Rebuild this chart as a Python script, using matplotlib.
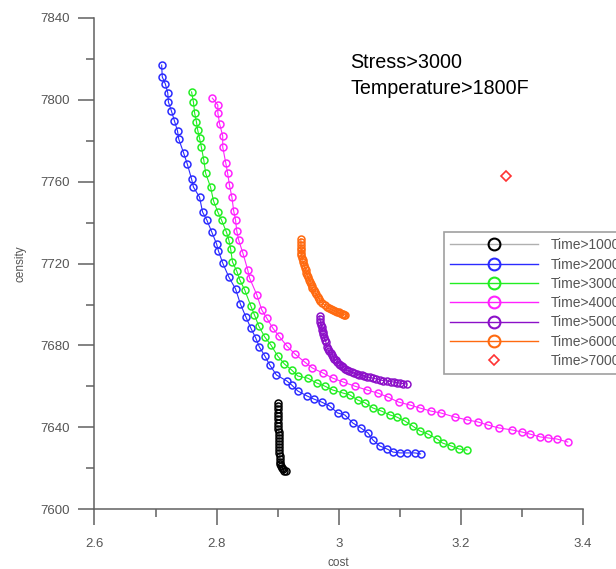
import numpy as np
import matplotlib
matplotlib.use("Agg")
import matplotlib.pyplot as plt
from matplotlib.ticker import MultipleLocator

plt.rcParams['font.family'] = ['Liberation Sans', 'DejaVu Sans']

# Time>1000
t1000_x = [2.900, 2.900, 2.900, 2.900, 2.900, 2.900, 2.900, 2.900, 2.900, 2.902,
           2.902, 2.902, 2.902, 2.902, 2.902, 2.902, 2.902, 2.903, 2.903, 2.903,
           2.903, 2.905, 2.907, 2.909, 2.911, 2.913]
t1000_y = [7652.0, 7650.5, 7649.0, 7647.1, 7645.5, 7644.0, 7642.2, 7640.8, 7639.3, 7637.8,
           7636.3, 7634.9, 7633.4, 7632.0, 7630.5, 7629.0, 7627.6, 7626.1, 7624.6, 7623.2,
           7622.2, 7621.2, 7620.3, 7619.6, 7619.0, 7618.6]

# Time>2000
t2000_x = [2.710, 2.711, 2.716, 2.720, 2.721, 2.726, 2.731, 2.736, 2.738, 2.746,
           2.752, 2.759, 2.762, 2.772, 2.777, 2.784, 2.792, 2.800, 2.803, 2.810,
           2.820, 2.831, 2.839, 2.848, 2.856, 2.864, 2.870, 2.879, 2.887, 2.898,
           2.915, 2.923, 2.933, 2.948, 2.959, 2.972, 2.985, 2.998, 3.010, 3.023,
           3.036, 3.048, 3.056, 3.067, 3.079, 3.089, 3.100, 3.111, 3.125, 3.134]
t2000_y = [7816.8, 7811.0, 7807.6, 7803.2, 7798.8, 7794.4, 7789.5, 7784.6, 7780.7, 7773.9,
           7768.5, 7761.2, 7757.3, 7752.4, 7745.1, 7741.2, 7735.4, 7729.5, 7726.1, 7720.2,
           7713.4, 7707.6, 7700.2, 7693.9, 7688.5, 7683.7, 7679.3, 7674.9, 7670.5, 7665.6,
           7662.7, 7660.7, 7657.8, 7655.4, 7653.9, 7652.4, 7650.5, 7647.1, 7646.1, 7642.2,
           7639.8, 7637.3, 7633.9, 7631.0, 7629.5, 7628.0, 7627.6, 7627.6, 7627.6, 7627.1]

# Time>3000
t3000_x = [2.759, 2.762, 2.764, 2.767, 2.769, 2.772, 2.775, 2.779, 2.782, 2.790,
           2.795, 2.802, 2.808, 2.816, 2.820, 2.823, 2.826, 2.833, 2.838, 2.846,
           2.856, 2.862, 2.869, 2.879, 2.889, 2.900, 2.911, 2.923, 2.933, 2.949,
           2.964, 2.977, 2.990, 3.007, 3.018, 3.031, 3.043, 3.056, 3.070, 3.084,
           3.095, 3.108, 3.121, 3.133, 3.146, 3.161, 3.170, 3.184, 3.197, 3.210]
t3000_y = [7803.7, 7798.8, 7793.4, 7789.0, 7785.1, 7781.2, 7776.8, 7770.5, 7764.1, 7757.3,
           7750.5, 7745.1, 7741.2, 7735.4, 7731.5, 7727.1, 7720.7, 7716.3, 7712.0, 7707.1,
           7699.3, 7694.9, 7689.5, 7684.1, 7680.2, 7674.9, 7671.0, 7668.0, 7665.1, 7664.1,
           7661.7, 7660.2, 7658.3, 7656.8, 7655.9, 7653.4, 7652.0, 7649.5, 7648.0, 7646.1,
           7645.1, 7643.2, 7640.7, 7638.3, 7636.8, 7634.4, 7632.4, 7631.0, 7629.5, 7629.0]

# Time>4000
t4000_x = [2.793, 2.802, 2.802, 2.805, 2.810, 2.810, 2.815, 2.818, 2.821, 2.825,
           2.828, 2.831, 2.833, 2.836, 2.843, 2.851, 2.854, 2.866, 2.874, 2.882,
           2.892, 2.902, 2.915, 2.928, 2.944, 2.957, 2.974, 2.990, 3.007, 3.026,
           3.046, 3.064, 3.080, 3.098, 3.116, 3.133, 3.151, 3.167, 3.190, 3.210,
           3.228, 3.244, 3.262, 3.284, 3.300, 3.313, 3.330, 3.343, 3.357, 3.375]
t4000_y = [7800.7, 7797.3, 7793.4, 7788.0, 7782.2, 7776.8, 7769.0, 7764.1, 7758.3, 7752.4,
           7745.6, 7741.2, 7735.9, 7731.5, 7725.1, 7716.8, 7712.9, 7704.6, 7697.3, 7693.4,
           7688.5, 7684.6, 7679.8, 7675.9, 7672.0, 7669.0, 7666.6, 7664.1, 7662.2, 7660.2,
           7658.3, 7656.8, 7654.9, 7652.4, 7651.0, 7649.5, 7648.0, 7647.1, 7645.1, 7643.7,
           7642.7, 7641.2, 7639.8, 7638.8, 7637.8, 7636.8, 7635.4, 7634.9, 7634.4, 7632.9]

# Time>5000
t5000_x = [2.969, 2.969, 2.970, 2.971, 2.972, 2.973, 2.974, 2.975, 2.976, 2.977,
           2.979, 2.980, 2.982, 2.984, 2.987, 2.989, 2.991, 2.992, 2.995, 2.997,
           3.000, 3.002, 3.005, 3.007, 3.010, 3.013, 3.017, 3.021, 3.025, 3.030,
           3.034, 3.038, 3.042, 3.046, 3.051, 3.056, 3.061, 3.067, 3.073, 3.079,
           3.085, 3.090, 3.095, 3.100, 3.106, 3.111]
t5000_y = [7694.4, 7693.0, 7691.5, 7690.2, 7689.0, 7687.8, 7686.6, 7685.4, 7684.1, 7682.9,
           7681.7, 7679.3, 7678.3, 7677.3, 7676.3, 7675.4, 7674.4, 7673.4, 7672.7, 7672.0,
           7671.2, 7670.5, 7670.0, 7669.5, 7668.7, 7668.0, 7667.6, 7667.1, 7666.6, 7666.1,
           7665.8, 7665.6, 7665.1, 7664.6, 7664.4, 7664.1, 7663.7, 7663.2, 7662.9, 7662.7,
           7662.4, 7662.2, 7661.9, 7661.7, 7661.4, 7661.2]

# Time>6000
t6000_x = [2.938, 2.938, 2.938, 2.938, 2.939, 2.939, 2.939, 2.940, 2.941, 2.942,
           2.943, 2.944, 2.946, 2.947, 2.948, 2.950, 2.951, 2.953, 2.954, 2.956,
           2.957, 2.959, 2.961, 2.963, 2.966, 2.968, 2.970, 2.973, 2.977, 2.980,
           2.984, 2.987, 2.990, 2.994, 2.997, 3.000, 3.002, 3.005, 3.007, 3.009, 3.011]
t6000_y = [7732.0, 7730.5, 7729.0, 7727.8, 7726.6, 7725.3, 7724.1, 7722.9, 7721.7, 7720.5,
           7719.3, 7718.0, 7716.8, 7715.6, 7714.4, 7713.2, 7712.0, 7711.0, 7710.0, 7709.0,
           7708.0, 7707.0, 7706.1, 7704.9, 7703.7, 7702.7, 7701.7, 7700.7, 7699.8, 7699.0,
           7698.3, 7697.8, 7697.3, 7696.8, 7696.3, 7696.1, 7695.9, 7695.6, 7695.4, 7695.1, 7694.9]

# Time>7000
t7000_x = [3.274]
t7000_y = [7762.7]

labels = ['Time>1000', 'Time>2000', 'Time>3000', 'Time>4000',
          'Time>5000', 'Time>6000', 'Time>7000']

fig = plt.figure(figsize=(6.16, 5.69), dpi=100)
ax = fig.add_axes([0.1534, 0.1046, 0.7930, 0.8646])

gray = '#555555'
mk = dict(marker='o', markersize=5, markerfacecolor='none', markeredgewidth=1.1, linewidth=0.8)

ax.plot(t1000_x, t1000_y, color='#b0b0b0', markeredgecolor='black', label=labels[0], **mk)
ax.plot(t2000_x, t2000_y, color='#2b2bff', label=labels[1], **mk)
ax.plot(t3000_x, t3000_y, color='#22ee22', label=labels[2], **mk)
ax.plot(t4000_x, t4000_y, color='#ff22ff', label=labels[3], **mk)
ax.plot(t5000_x, t5000_y, color='#8c10c8', label=labels[4], **mk)
ax.plot(t6000_x, t6000_y, color='#ff6a10', label=labels[5], **mk)
ax.plot(t7000_x, t7000_y, linestyle='none', marker='D', markersize=5.5,
        markerfacecolor='none', markeredgecolor='#ff3333', markeredgewidth=1.2,
        label=labels[6])

ax.set_xlim(2.6, 3.4)
ax.set_ylim(7600, 7840)
ax.xaxis.set_minor_locator(MultipleLocator(0.1))
ax.yaxis.set_major_locator(MultipleLocator(40))
ax.yaxis.set_minor_locator(MultipleLocator(20))
ax.set_xticks([2.6, 2.8, 3.0, 3.2, 3.4])
ax.set_xticklabels(['2.6', '2.8', '3', '3.2', '3.4'])

for s in ['top', 'right']:
    ax.spines[s].set_visible(False)
for s in ['left', 'bottom']:
    ax.spines[s].set_color('#606060')
    ax.spines[s].set_linewidth(1.1)

ax.tick_params(which='major', length=11.5, width=1.1, color='#606060',
               labelsize=9.5, labelcolor=gray)
ax.tick_params(axis='x', which='major', pad=9)
ax.tick_params(axis='y', which='major', pad=6)
ax.tick_params(which='minor', length=5.8, width=1.1, color='#606060')

ax.set_xlabel('cost', fontsize=8.5, color=gray, labelpad=5)
ax.set_ylabel('censity', fontsize=8.5, color=gray, labelpad=10)

fig.text(350 / 616, 1 - 63 / 569, 'Stress>3000', fontsize=14.2, va='center', ha='left')
fig.text(350 / 616, 1 - 88 / 569, 'Temperature>1800F', fontsize=14.2, va='center', ha='left')

# legend runs past the right edge of the figure, as in the original
leg = ax.legend(loc='upper left', bbox_to_anchor=(444 / 616, 1 - 232 / 569),
                bbox_transform=fig.transFigure, fontsize=10, frameon=True,
                fancybox=False, handlelength=6.3, handletextpad=0.95,
                borderpad=0.45, labelspacing=0.38, borderaxespad=0)
leg.get_frame().set_edgecolor('#888888')
leg.get_frame().set_linewidth(1.2)
for t in leg.get_texts():
    t.set_color(gray)
for h in leg.legend_handles:
    if h.get_marker() == 'D':
        h.set_markersize(5.5)
    else:
        h.set_markersize(8.5)
        h.set_markeredgewidth(1.5)
        h.set_linewidth(1.0)

fig.savefig('out.png', dpi=100)
